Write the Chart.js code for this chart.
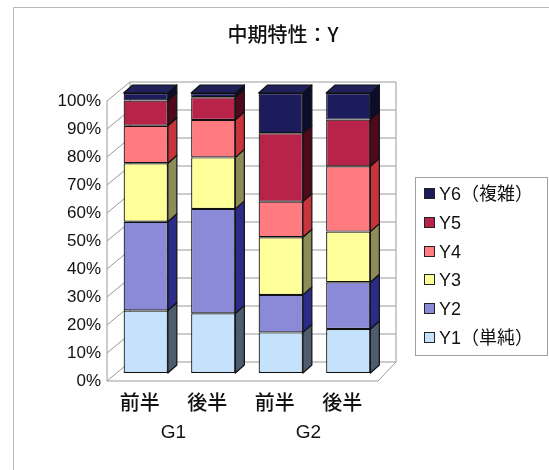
<!DOCTYPE html>
<html>
<head>
<meta charset="utf-8">
<script src="https://cdn.jsdelivr.net/npm/chart.js@4"></script>
<style>
  body{margin:0;background:#fff;}
  canvas{display:block;}
</style>
</head>
<body>
<canvas id="chart" width="549" height="470"></canvas>
<script>
const TITLE = '中期特性：Y';
const categories = ['前半','後半','前半','後半'];
const groups = ['G1','G2'];
const groupOf = [0,0,1,1];
const seriesNames = ['Y1（単純）','Y2','Y3','Y4','Y5','Y6（複雑）'];
const y1 = [22.3, 21.3, 14.5, 15.7];
const y2 = [31.7, 37.3, 13.4, 16.7];
const y3 = [20.9, 18.4, 20.6, 18.1];
const y4 = [13.4, 13.4, 12.7, 23.3];
const y5 = [9.0, 8.1, 24.4, 16.7];
const y6 = [2.7, 1.5, 14.4, 9.5];

const frontColors = ['#c4e2fb','#8a8ad8','#ffff99','#ff7b80','#b8234a','#1c1c5c'];
const sideColors  = ['#4d5d6e','#2b2b88','#8c8c58','#c8343c','#4e0a1c','#0c0c2c'];
const topColor = '#20205a';
const DX = 9, DY = 8;
const FONT = '"Liberation Sans", Arial, "Noto Sans CJK JP", sans-serif';
const JFONT = '"Noto Sans CJK JP", sans-serif';

const values = [y1,y2,y3,y4,y5,y6];

// frame, title, walls, 3d faces, legend, group labels
const deco = {
  id:'deco',
  beforeDraw(chart){
    const c = chart.ctx, a = chart.chartArea, ys = chart.scales.y;
    c.save();
    c.fillStyle = '#fff';
    c.fillRect(0,0,chart.width,chart.height);
    c.strokeStyle = '#b8b8b8'; c.lineWidth = 1;
    c.beginPath(); c.moveTo(13.5,470); c.lineTo(13.5,7.5); c.lineTo(549,7.5); c.stroke();
    c.fillStyle = '#111'; c.font = '500 20px ' + JFONT;
    c.textAlign = 'center'; c.textBaseline = 'middle';
    c.fillText(TITLE, 283, 34);
    const fL = a.left - 5, bL = a.left + 18, bR = a.right + 14, fR = a.right - 4;
    c.strokeStyle = '#9a9a9a'; c.lineWidth = 1;
    for(let v=0; v<=100; v+=10){
      const y = ys.getPixelForValue(v);
      c.beginPath();
      c.moveTo(fL, y+8); c.lineTo(bL, y-11); c.lineTo(bR, y-11);
      c.stroke();
    }
    const y0 = ys.getPixelForValue(0), y100 = ys.getPixelForValue(100);
    c.beginPath();
    c.moveTo(bL, y100-11); c.lineTo(bL, y0-11);
    c.moveTo(bR, y100-11); c.lineTo(bR, y0-11);
    c.moveTo(fL, y100+8); c.lineTo(fL, y0+8);
    c.moveTo(fL, y0+8); c.lineTo(fR, y0+8); c.lineTo(bR, y0-11);
    c.stroke();
    c.restore();
  },
  afterDatasetsDraw(chart){
    const c = chart.ctx;
    c.save();
    c.strokeStyle = '#111'; c.lineWidth = 1.2; c.lineJoin = 'round';
    const n = chart.data.datasets.length;
    chart.data.datasets.forEach((ds, di)=>{
      chart.getDatasetMeta(di).data.forEach(el=>{
        const p = el.getProps(['x','y','base','width'], true);
        const l = p.x - p.width/2, r = p.x + p.width/2;
        c.fillStyle = sideColors[di];
        c.beginPath();
        c.moveTo(r, p.y); c.lineTo(r+DX, p.y-DY); c.lineTo(r+DX, p.base-DY); c.lineTo(r, p.base);
        c.closePath(); c.fill(); c.stroke();
        if(di === n-1){
          c.fillStyle = topColor;
          c.beginPath();
          c.moveTo(l, p.y); c.lineTo(l+DX, p.y-DY); c.lineTo(r+DX, p.y-DY); c.lineTo(r, p.y);
          c.closePath(); c.fill(); c.stroke();
        }
      });
    });
    c.restore();
  },
  afterDraw(chart){
    const c = chart.ctx, xs = chart.scales.x;
    c.save();
    c.fillStyle = '#111'; c.font = '19px ' + FONT;
    c.textAlign = 'center'; c.textBaseline = 'middle';
    groups.forEach((g, gi)=>{
      const idx = categories.map((_,i)=>i).filter(i=>groupOf[i]===gi);
      const x = idx.reduce((s,i)=>s+xs.getPixelForValue(i),0)/idx.length - 6;
      c.fillText(g, x, 433);
    });
    c.strokeStyle = '#a0a0a0'; c.lineWidth = 1;
    c.fillStyle = '#fff';
    c.fillRect(415.5,177.5,132,178);
    c.strokeRect(415.5,177.5,132,178);
    c.textAlign = 'left';
    const rowsY = [194,223,252,280,309,338];
    for(let k=0;k<seriesNames.length;k++){
      const di = seriesNames.length-1-k;
      const y = rowsY[k];
      c.fillStyle = frontColors[di];
      c.fillRect(424.5, y-5.5, 10, 10);
      c.strokeStyle = '#222';
      c.strokeRect(424.5, y-5.5, 10, 10);
      c.fillStyle = '#111';
      c.font = '18px ' + FONT;
      c.fillText(seriesNames[di], 439, y+1);
    }
    c.restore();
  }
};

new Chart(document.getElementById('chart'), {
  type: 'bar',
  data: {
    labels: categories,
    datasets: values.map((v,i)=>({
      label: seriesNames[i],
      data: v,
      backgroundColor: frontColors[i],
      borderColor: '#111',
      borderWidth: 1.2,
      borderSkipped: false,
      categoryPercentage: 1,
      barPercentage: 0.655
    }))
  },
  options: {
    responsive: false,
    devicePixelRatio: 1,
    animation: false,
    layout: { padding: { top: 93, right: 167, left: 0, bottom: 0 } },
    plugins: { legend: { display: false }, tooltip: { enabled: false } },
    scales: {
      x: {
        stacked: true,
        grid: { display: false },
        border: { display: false },
        ticks: { color: '#111', font: { family: JFONT, size: 20, weight: '500' }, padding: 9, labelOffset: -6, maxRotation: 0 },
        afterFit(s){ s.height = 97; }
      },
      y: {
        stacked: true,
        min: 0, max: 100,
        grid: { display: false },
        border: { display: false },
        ticks: { stepSize: 10, color: '#111', font: { family: FONT, size: 17 }, padding: 3, labelOffset: 8,
          callback: v => v + '%' },
        afterFit(s){ s.width = 112; }
      }
    }
  },
  plugins: [deco]
});
</script>
</body>
</html>
